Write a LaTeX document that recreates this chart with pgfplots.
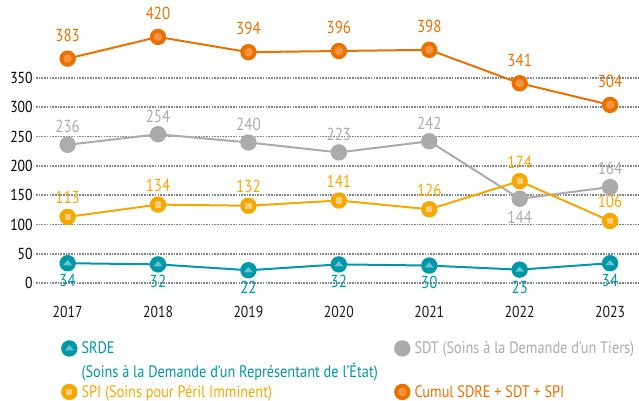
\documentclass[border=0pt]{standalone}
\usepackage{pgfplots}
\pgfplotsset{compat=1.18}
\usepackage{fontspec}
\setmainfont{PT Sans}[FakeStretch=0.86]
\definecolor{cteal}{HTML}{0097A9}
\definecolor{ctealL}{HTML}{6CC3CF}
\definecolor{cgray}{HTML}{ABABAB}
\definecolor{camber}{HTML}{F6A800}
\definecolor{camberL}{HTML}{FBCF7E}
\definecolor{corange}{HTML}{EC7000}
\definecolor{corangeL}{HTML}{F29440}
\definecolor{cgrid}{HTML}{7D878B}
\pgfdeclareplotmark{srde}{%
  \pgfpathcircle{\pgfpointorigin}{\pgfplotmarksize}%
  \pgfsetfillcolor{cteal}\pgfusepathqfill
  \pgfpathmoveto{\pgfqpoint{0pt}{0.4\pgfplotmarksize}}%
  \pgfpathlineto{\pgfqpoint{0.55\pgfplotmarksize}{-0.25\pgfplotmarksize}}%
  \pgfpathlineto{\pgfqpoint{-0.55\pgfplotmarksize}{-0.25\pgfplotmarksize}}%
  \pgfpathclose
  \pgfsetfillcolor{ctealL}\pgfusepathqfill}
\pgfdeclareplotmark{sdt}{%
  \pgfpathcircle{\pgfpointorigin}{\pgfplotmarksize}%
  \pgfsetfillcolor{cgray}\pgfusepathqfill}
\pgfdeclareplotmark{spi}{%
  \pgfpathcircle{\pgfpointorigin}{\pgfplotmarksize}%
  \pgfsetfillcolor{camber}\pgfusepathqfill
  \pgfpathrectanglecorners{\pgfqpoint{-0.38\pgfplotmarksize}{-0.38\pgfplotmarksize}}{\pgfqpoint{0.38\pgfplotmarksize}{0.38\pgfplotmarksize}}%
  \pgfsetfillcolor{camberL}\pgfusepathqfill}
\pgfdeclareplotmark{cumul}{%
  \pgfpathcircle{\pgfpointorigin}{\pgfplotmarksize}%
  \pgfsetfillcolor{corange}\pgfusepathqfill
  \pgfpathcircle{\pgfpointorigin}{0.52\pgfplotmarksize}%
  \pgfsetfillcolor{corangeL}\pgfusepathqfill}
\begin{document}
\begin{tikzpicture}
\path[use as bounding box] (0,0) rectangle (639bp,401bp);
\begin{axis}[
  at={(36bp,112bp)}, anchor=south west,
  scale only axis, width=603bp, height=289bp,
  xmin=2016.65, xmax=2023.32, ymin=-10, ymax=483,
  clip=false,
  axis line style={draw=none},
  major tick length=0pt,
  xtick={2017,2018,2019,2020,2021,2022,2023},
  xticklabels={2017,2018,2019,2020,2021,2022,2023},
  ytick={0,50,100,150,200,250,300,350},
  /pgf/number format/assume math mode=true,
  yticklabel style={font=\fontsize{16}{19}\selectfont, text=black, xshift=1bp},
  xticklabel style={font=\fontsize{16}{19}\selectfont, text=black!90, yshift=-13bp},
  ymajorgrids,
  grid style={cgrid, line width=1.6bp, dash pattern=on 1.6bp off 1.1bp},
  line width=2bp,
  mark size=8.2bp,
  nodes near coords,
  every node near coord/.append style={font=\fontsize{17.5}{20}\selectfont, inner sep=1bp},
  legend columns=2,
  legend cell align=left,
  legend image code/.code={\draw[#1] plot coordinates {(0.3cm,0cm)};},
  legend style={draw=none, fill=none, inner sep=0pt,
    at={(rel axis cs:0.04,-0.172)}, anchor=north west,
    font=\fontsize{16.7}{19}\selectfont, row sep=26bp,
    /tikz/column 2/.style={column sep=120bp},
    /tikz/every odd column/.append style={column sep=2bp}},
]
\addplot[cteal, mark=srde,
  every node near coord/.append style={text=cteal, anchor=north, outer sep=10bp}]
  coordinates {(2017,34) (2018,32) (2019,22) (2020,32) (2021,30) (2022,23) (2023,34)};
\addlegendentry{\textcolor{cteal}{\smash{\rlap{\raisebox{-24bp}{(Soins à la Demande d’un Représentant de l’État)}}}SRDE}}
\addplot[cgray, mark=sdt,
  visualization depends on={value \thisrow{anc}\as\labanc},
  every node near coord/.append style={text=cgray, anchor=\labanc, outer sep=11bp}]
  table[x=x, y=y] {
x y anc
2017 236 south
2018 254 south
2019 240 south
2020 223 south
2021 242 south
2022 144 north
2023 164 south
};
\addlegendentry{\textcolor{cgray}{SDT (Soins à la Demande d’un Tiers)}}
\addplot[camber, mark=spi,
  every node near coord/.append style={text=camber, anchor=south, outer sep=12bp}]
  coordinates {(2017,113) (2018,134) (2019,132) (2020,141) (2021,126) (2022,174) (2023,106)};
\addlegendentry{\textcolor{camber}{SPI (Soins pour Péril Imminent)}}
\addplot[corange, mark=cumul,
  every node near coord/.append style={text=corange, anchor=south, outer sep=16bp}]
  coordinates {(2017,383) (2018,420) (2019,394) (2020,396) (2021,398) (2022,341) (2023,304)};
\addlegendentry{\textcolor{corange}{Cumul SDRE + SDT + SPI}}
\end{axis}
\end{tikzpicture}
\end{document}
